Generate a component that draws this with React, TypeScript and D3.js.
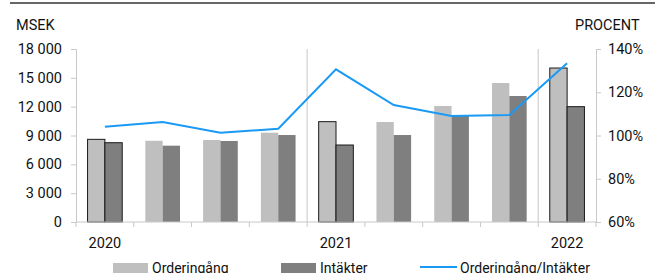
import { useEffect, useRef } from 'react';
import * as d3 from 'd3';

// Kvartal (Q1 2020 - Q1 2022)
const kvartal = ['Q1 2020', 'Q2 2020', 'Q3 2020', 'Q4 2020', 'Q1 2021', 'Q2 2021', 'Q3 2021', 'Q4 2021', 'Q1 2022'];
const arsEtiketter = ['2020', '', '', '', '2021', '', '', '', '2022'];
const orderingang = [8600, 8450, 8530, 9290, 10440, 10400, 12070, 14460, 16020];
const intakter = [8250, 7940, 8430, 9050, 8010, 9050, 11030, 13110, 12000];
const kvot = [104.1, 106.2, 101.3, 103.1, 130.6, 114.1, 109.0, 109.5, 133.4];
const markerade = ['Q1 2020', 'Q1 2021', 'Q1 2022'];
const avdelare = ['Q1 2021', 'Q1 2022'];
const vanstraTicks = [0, 3000, 6000, 9000, 12000, 15000, 18000];
const hograTicks = [60, 80, 100, 120, 140];

const FONT = 'Roboto, "Liberation Sans", Arial, sans-serif';

const Chart = () => {
  const svgRef = useRef<SVGSVGElement>(null);

  useEffect(() => {
    if (!svgRef.current) return;
    const svg = d3.select(svgRef.current);
    svg.selectAll('*').remove();

    const left = 76;
    const right = 596;
    const top = 49;
    const bottom = 222;

    // Skalor
    const x = d3.scaleBand<string>().domain(kvartal).range([left, right]).padding(0);
    const sub = d3.scaleBand<string>().domain(['o', 'i']).range([0, x.bandwidth() * 0.6]);
    const yL = d3.scaleLinear().domain([0, 18000]).range([bottom, top]);
    const yR = d3.scaleLinear().domain([60, 140]).range([bottom, top]);
    const off = (x.bandwidth() - x.bandwidth() * 0.6) / 2;

    // Linje överst
    svg.append('line')
      .attr('x1', 10).attr('x2', 655).attr('y1', 3).attr('y2', 3)
      .attr('stroke', '#333').attr('stroke-width', 1.5);

    // Axeltitlar
    svg.append('text').attr('x', 16).attr('y', 30).text('MSEK')
      .attr('font-family', FONT).attr('font-size', 14.5).attr('fill', '#111');
    svg.append('text').attr('x', 575).attr('y', 30).text('PROCENT')
      .attr('font-family', FONT).attr('font-size', 14.5).attr('fill', '#111');

    // Avdelare mellan år
    avdelare.forEach(k => {
      svg.append('line')
        .attr('x1', x(k)!).attr('x2', x(k)!).attr('y1', top).attr('y2', bottom)
        .attr('stroke', '#c8c8c8').attr('stroke-width', 1);
    });

    // Staplar
    const g = svg.append('g');
    kvartal.forEach((k, i) => {
      const outline = markerade.includes(k);
      [['o', orderingang[i], '#bfbfbf'], ['i', intakter[i], '#7f7f7f']].forEach(([s, v, c]) => {
        g.append('rect')
          .attr('x', x(k)! + off + sub(s as string)!)
          .attr('y', yL(v as number))
          .attr('width', sub.bandwidth())
          .attr('height', bottom - yL(v as number))
          .attr('fill', c as string)
          .attr('stroke', outline ? '#1a1a1a' : 'none')
          .attr('stroke-width', 1);
      });
    });

    // Vänster axel
    const yAxisL = d3.axisLeft(yL).tickValues(vanstraTicks).tickSize(5).tickPadding(9)
      .tickFormat(d => d3.format(',')(d as number).replace(/,/g, ' '));
    const gl = svg.append('g').attr('transform', `translate(${left},0)`).call(yAxisL);
    gl.select('.domain').attr('stroke', '#c8c8c8');
    gl.selectAll('.tick line').attr('stroke', '#c8c8c8');
    gl.selectAll('text').attr('font-family', FONT).attr('font-size', 14.5).attr('fill', '#111');

    // Höger axel
    const yAxisR = d3.axisRight(yR).tickValues(hograTicks).tickSize(5).tickPadding(7)
      .tickFormat(d => `${d}%`);
    const gr = svg.append('g').attr('transform', `translate(${right},0)`).call(yAxisR);
    gr.select('.domain').attr('stroke', '#c8c8c8');
    gr.selectAll('.tick line').attr('stroke', '#c8c8c8');
    gr.selectAll('text').attr('font-family', FONT).attr('font-size', 14.5).attr('fill', '#111');

    // X-axel
    svg.append('line')
      .attr('x1', left).attr('x2', right).attr('y1', bottom).attr('y2', bottom)
      .attr('stroke', '#c8c8c8');
    [...kvartal.map(k => x(k)!), right].forEach(px => {
      svg.append('line')
        .attr('x1', px).attr('x2', px).attr('y1', bottom).attr('y2', bottom + 5)
        .attr('stroke', '#c8c8c8');
    });
    kvartal.forEach((k, i) => {
      if (!arsEtiketter[i]) return;
      svg.append('text')
        .attr('x', x(k)! + x.bandwidth() / 2).attr('y', 248)
        .attr('text-anchor', 'middle')
        .attr('font-family', FONT).attr('font-size', 14.5).attr('fill', '#111')
        .text(arsEtiketter[i]);
    });

    // Linje (kvot)
    const line = d3.line<number>()
      .x((_, i) => x(kvartal[i])! + x.bandwidth() / 2)
      .y(d => yR(d));
    svg.append('path')
      .datum(kvot)
      .attr('fill', 'none')
      .attr('stroke', '#1a9af5')
      .attr('stroke-width', 2)
      .attr('d', line);

    // Legend
    const lg = svg.append('g').attr('font-family', FONT).attr('font-size', 14).attr('fill', '#111');
    lg.append('rect').attr('x', 113).attr('y', 263).attr('width', 35).attr('height', 12).attr('fill', '#bfbfbf');
    lg.append('text').attr('x', 152).attr('y', 273).text('Orderingång');
    lg.append('rect').attr('x', 281).attr('y', 263).attr('width', 35).attr('height', 12).attr('fill', '#7f7f7f');
    lg.append('text').attr('x', 320).attr('y', 273).text('Intäkter');
    lg.append('line').attr('x1', 420).attr('x2', 457).attr('y1', 267).attr('y2', 267)
      .attr('stroke', '#1a9af5').attr('stroke-width', 2);
    lg.append('text').attr('x', 460).attr('y', 273).text('Orderingång/Intäkter');
  }, []);

  return <svg ref={svgRef} width={660} height={273} style={{ position: 'absolute', left: 0, top: 0, background: '#fff' }} />;
};

export default function App() {
  return <Chart />;
}
